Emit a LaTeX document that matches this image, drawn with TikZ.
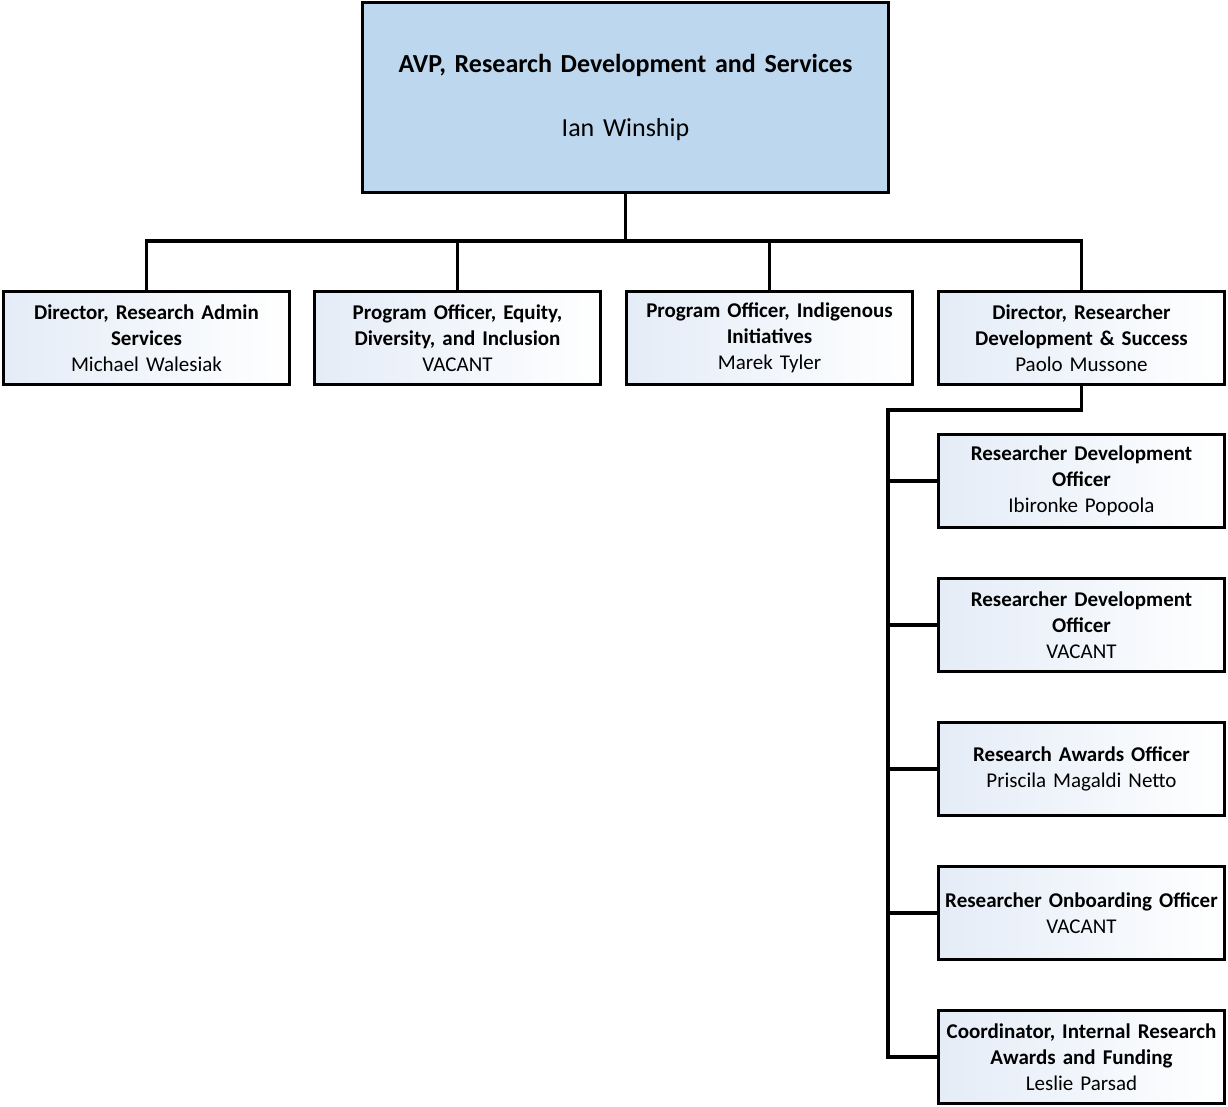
\documentclass[tikz,border=0pt]{standalone}
\usepackage{fontspec}
\setmainfont{Carlito}
\usetikzlibrary{positioning}
\definecolor{avpblue}{RGB}{189,215,238}
\definecolor{posttint}{RGB}{228,236,247}

\begin{document}
\begin{tikzpicture}[x=1pt, y=-1pt, line width=3.5pt,
    box/.style={draw=black, line width=3.5pt, align=center, inner sep=0pt},
    post/.style={box, minimum width=286pt, minimum height=93pt, text width=284pt,
                 left color=posttint, right color=white,
                 font=\fontsize{21}{26}\selectfont},
    chief/.style={box, minimum width=526pt, minimum height=190pt, text width=510pt,
                  fill=avpblue, font=\fontsize{26}{64}\selectfont}]
    \useasboundingbox (0,0) rectangle (1228,1107);
    % top
    \node[chief] (AVP) at (625.5,97.5) {\textbf{AVP, Research Development and Services}\\Ian Winship};
    % first row
    \node[post] (RAS) at (146.5,338) {\textbf{Director, Research Admin}\\\textbf{Services}\\Michael Walesiak};
    \node[post] (EDI) at (457.5,338) {\textbf{Program Officer, Equity,}\\\textbf{Diversity, and Inclusion}\\VACANT};
    \node[post] (IND) at (769.5,338) {\textbf{Program Officer, Indigenous}\\\textbf{Initiatives}\\Marek Tyler};
    \node[post] (RDS) at (1081.5,338) {\textbf{Director, Researcher}\\\textbf{Development \& Success}\\Paolo Mussone};
    % under RDS
    \node[post] (RDO) at (1081.5,481) {\textbf{Researcher Development}\\\textbf{Officer}\\Ibironke Popoola};
    \node[post] (RDV) at (1081.5,625) {\textbf{Researcher Development}\\\textbf{Officer}\\VACANT};
    \node[post] (RAO) at (1081.5,769) {\textbf{Research Awards Officer}\\Priscila Magaldi Netto};
    \node[post] (ROO) at (1081.5,913) {\textbf{Researcher Onboarding Officer}\\VACANT};
    \node[post] (CIR) at (1081.5,1057) {\textbf{Coordinator, Internal Research}\\\textbf{Awards and Funding}\\Leslie Parsad};
    \coordinate (spine) at (888,410);
    % lines
    \foreach \n in {RAS,EDI,IND,RDS}
        \draw (AVP.south) -- ++(0,47) -| (\n.north);
    \foreach \n in {RDO,RDV,RAO,ROO,CIR}
        \draw (RDS.south) |- (spine) |- (\n.west);
\end{tikzpicture}
\end{document}
